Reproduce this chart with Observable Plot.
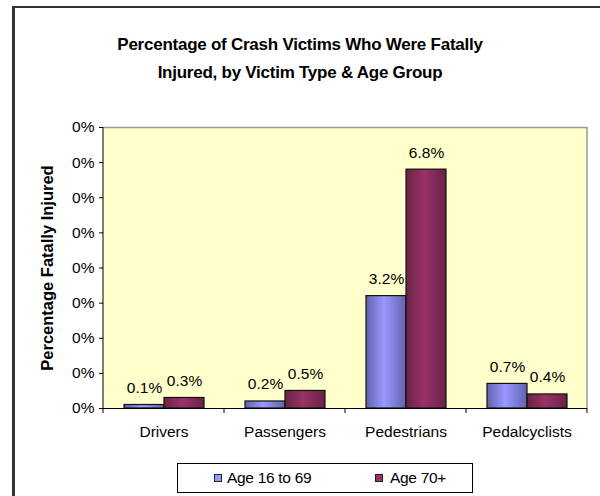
<!DOCTYPE html>
<html>
<head>
<meta charset="utf-8">
<script src="https://cdn.jsdelivr.net/npm/d3@7"></script>
<script src="https://cdn.jsdelivr.net/npm/@observablehq/plot@0.6"></script>
<style>
  body { margin: 0; background: #fff; }
  #chart { position: relative; width: 600px; height: 496px; overflow: hidden; background: #fff;
           font-family: "Liberation Sans", Arial, sans-serif; color: #000; }
  .outer { position: absolute; left: 12px; top: 6px; right: -20px; bottom: -20px;
           border-left: 3px solid #333; border-top: 2px solid #333; }
  .title { position: absolute; left: 0; top: 31px; width: 600px; text-align: center;
           font-weight: bold; font-size: 17px; line-height: 28px; letter-spacing: -0.25px; }
  #plot { position: absolute; left: 0; top: 100px; }
  .legend { position: absolute; left: 177px; top: 463px; width: 296px; height: 30px; box-sizing: border-box;
            border: 1px solid #000; background: #fff; font-size: 15.5px; }
  .legend .sw { position: absolute; top: 10px; width: 8px; height: 8px; border: 1px solid #222; box-sizing: border-box; }
  .legend .lt { position: absolute; top: 5px; line-height: 18px; white-space: nowrap; letter-spacing: -0.3px; }
</style>
</head>
<body>
<div id="chart">
  <div class="outer"></div>
  <div class="title">Percentage of Crash Victims Who Were Fatally<br>Injured, by Victim Type &amp; Age Group</div>
  <div id="plot"></div>
  <div class="legend" id="legend"></div>
</div>
<script>
const categories = ["Drivers", "Passengers", "Pedestrians", "Pedalcyclists"];
const seriesNames = ["Age 16 to 69", "Age 70+"];
const age16to69 = [0.1, 0.2, 3.2, 0.7];
const age70plus = [0.3, 0.5, 6.8, 0.4];
const yTicks = [0, 1, 2, 3, 4, 5, 6, 7, 8];
const yTickLabels = ["0%", "0%", "0%", "0%", "0%", "0%", "0%", "0%", "0%"];
const yTitle = "Percentage Fatally Injured";
const seriesColors = ["#9999FF", "#993366"];
const seriesDark = ["#6262AE", "#6A2246"];

const data = categories.flatMap((c, i) => [
  {category: c, series: seriesNames[0], value: age16to69[i]},
  {category: c, series: seriesNames[1], value: age70plus[i]}
]);

const plot = Plot.plot({
  width: 600,
  height: 350,
  marginLeft: 103,
  marginRight: 13,
  marginTop: 27,
  marginBottom: 42,
  style: {fontFamily: "'Liberation Sans', Arial, sans-serif", fontSize: "15.5px", color: "#000", background: "transparent", overflow: "visible"},
  fx: {domain: categories, padding: 0, label: null},
  x: {domain: seriesNames, paddingInner: 0, paddingOuter: 0.5, axis: null},
  y: {domain: [0, 8], label: null},
  color: {domain: seriesNames, range: ["url(#grad0)", "url(#grad1)"]},
  marks: [
    Plot.ruleY([8], {stroke: "#999", strokeWidth: 1.5}),
    Plot.barY(data, {fx: "category", x: "series", y: "value", fill: "series", stroke: "#111", strokeWidth: 1.2}),
    Plot.text(data, {fx: "category", x: "series", y: "value", text: d => d.value.toFixed(1) + "%", dy: -17, fontSize: 15.5}),
    Plot.ruleY([0], {stroke: "#000"}),
    Plot.axisY({ticks: yTicks, tickFormat: (d, i) => yTickLabels[i], tickSize: 4, tickPadding: 5, fontSize: 15.5,
                label: yTitle, labelArrow: "none", labelAnchor: "center", labelOffset: 62}),
    Plot.axisFx({anchor: "bottom", tickSize: 0, tickPadding: 17, fontSize: 15.5, label: null})
  ]
});
document.getElementById("plot").appendChild(plot);

const svg = d3.select(plot);
// gradients for the bars
const defs = svg.insert("defs", ":first-child");
seriesColors.forEach((col, i) => {
  const g = defs.append("linearGradient").attr("id", "grad" + i).attr("x1", 0).attr("x2", 1).attr("y1", 0).attr("y2", 0);
  g.append("stop").attr("offset", 0).attr("stop-color", seriesDark[i]);
  g.append("stop").attr("offset", 0.45).attr("stop-color", col);
  g.append("stop").attr("offset", 1).attr("stop-color", seriesDark[i]);
});
// bold y-axis title without arrow
svg.selectAll('[aria-label="y-axis label"] text').text(yTitle).attr("font-weight", "bold").attr("font-size", 16.5);

// plot-area background, edges and category boundary ticks from the scales
const fx = plot.scale("fx"), y = plot.scale("y");
const [x0, x1] = fx.range;
const yb = Math.max(...y.range), yt = Math.min(...y.range);
const step = (x1 - x0) / categories.length;
svg.insert("rect", "defs + *").attr("x", x0).attr("y", yt).attr("width", x1 - x0).attr("height", yb - yt).attr("fill", "#FFFFCC");
const deco = svg.append("g");
deco.append("line").attr("x1", x1).attr("x2", x1).attr("y1", yt).attr("y2", yb).attr("stroke", "#999").attr("stroke-width", 1.5);
deco.append("line").attr("x1", x0).attr("x2", x0).attr("y1", yt).attr("y2", yb).attr("stroke", "#000");
d3.range(categories.length + 1).forEach(i => {
  deco.append("line").attr("x1", x0 + i * step).attr("x2", x0 + i * step).attr("y1", yb).attr("y2", yb + 5).attr("stroke", "#000");
});

// legend
const legend = d3.select("#legend");
const swX = [36, 197], txX = [49, 212];
seriesNames.forEach((s, i) => {
  legend.append("span").attr("class", "sw").style("left", swX[i] + "px").style("background", seriesColors[i]);
  legend.append("span").attr("class", "lt").style("left", txX[i] + "px").text(s);
});
</script>
</body>
</html>
